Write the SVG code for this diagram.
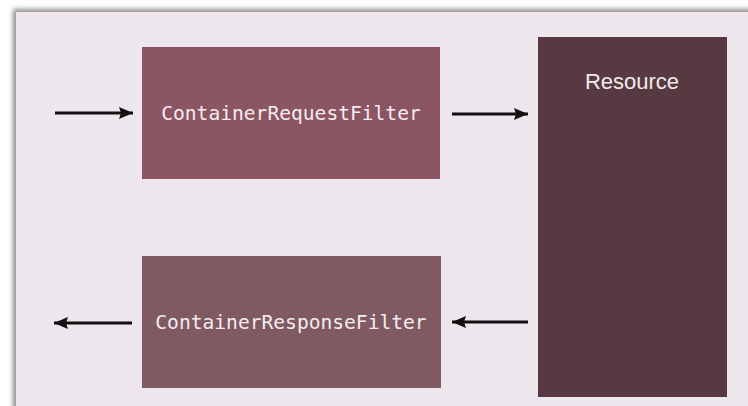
<svg xmlns="http://www.w3.org/2000/svg" width="748" height="406" viewBox="0 0 748 406">
  <defs>
    <filter id="shadow" x="-5%" y="-5%" width="110%" height="110%">
      <feGaussianBlur stdDeviation="2.5"/>
    </filter>
    <marker id="head" markerWidth="16" markerHeight="14" refX="14" refY="7" orient="auto" markerUnits="userSpaceOnUse">
      <path d="M0,1 L14,7 L0,13 L2,7 Z" fill="#111"/>
    </marker>
    <style>
      .mono { font-family: "DejaVu Sans Mono", "Liberation Mono", monospace; font-size: 19.6px; fill: #f6ecef; }
      .sans { font-family: "Liberation Sans", Arial, sans-serif; font-size: 22px; fill: #f3e9ec; }
      .conn { stroke: #111; stroke-width: 3.2; fill: none; marker-end: url(#head); }
    </style>
  </defs>
  <rect x="0" y="0" width="748" height="406" fill="#ffffff"/>
  <rect x="13" y="9" width="760" height="420" fill="#8e8e8e" filter="url(#shadow)"/>
  <rect x="16" y="12" width="740" height="400" fill="#ede7ed"/>

  <g id="request-filter">
    <rect x="142" y="47" width="298" height="132" fill="#8b5563"/>
    <text class="mono" x="291" y="120" text-anchor="middle">ContainerRequestFilter</text>
  </g>
  <g id="response-filter">
    <rect x="142" y="256" width="299" height="132" fill="#805a62"/>
    <text class="mono" x="291" y="329" text-anchor="middle">ContainerResponseFilter</text>
  </g>
  <g id="resource">
    <rect x="538" y="37" width="189" height="360" fill="#573942"/>
    <text class="sans" x="632" y="89" text-anchor="middle">Resource</text>
  </g>

  <g id="connectors">
    <line class="conn" x1="55" y1="113" x2="133" y2="113"/>
    <line class="conn" x1="452" y1="114" x2="528" y2="114"/>
    <line class="conn" x1="528" y1="322" x2="452" y2="322"/>
    <line class="conn" x1="132" y1="323" x2="54" y2="323"/>
  </g>
</svg>
